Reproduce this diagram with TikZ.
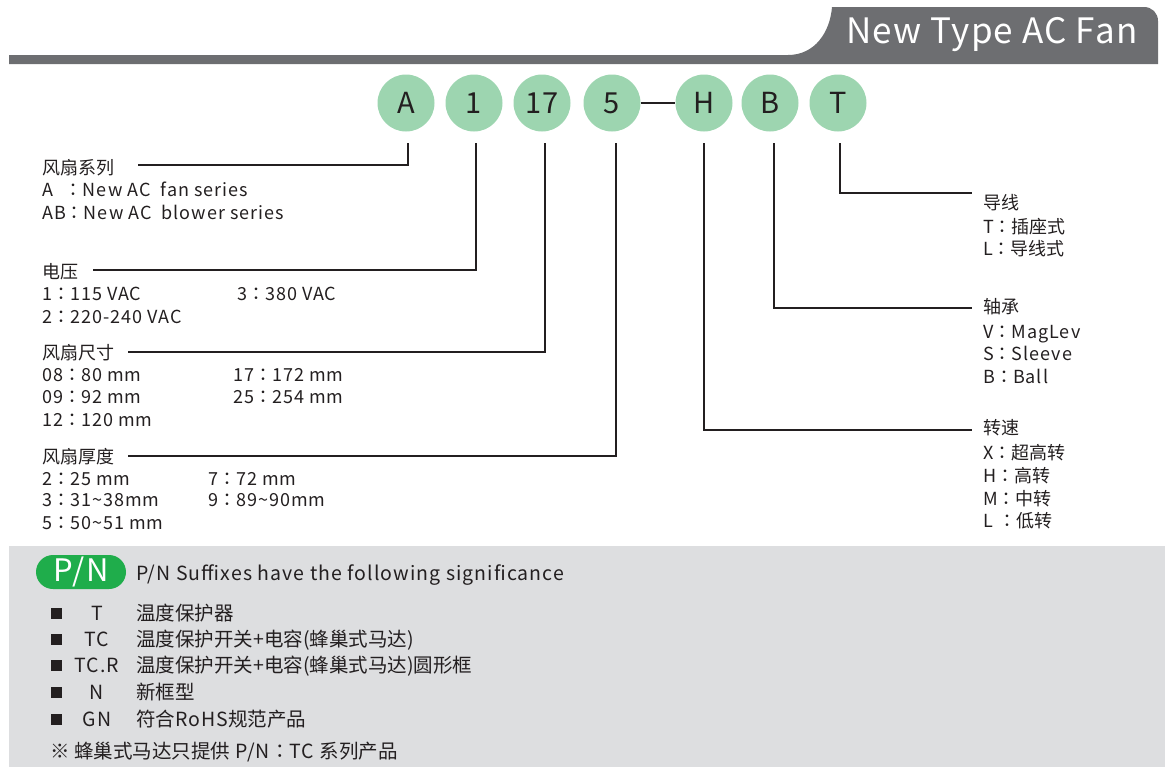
\documentclass[tikz,border=0pt]{standalone}
\usepackage{fontspec}
\setmainfont[LetterSpace=5.5]{Noto Sans CJK SC}
\newfontfamily\cjk{Noto Sans CJK SC}
\newfontfamily\cjkcolon{Noto Sans CJK TC}
\newfontfamily\titlefont[LetterSpace=3.5]{Noto Sans CJK SC}
\newcommand\cn[1]{{\cjk #1}}
\newcommand\fcolon{{\cjkcolon ：}}
\definecolor{ink}{HTML}{231F20}
\definecolor{tabgray}{HTML}{6D6E71}
\definecolor{panelgray}{HTML}{DDDEE0}
\definecolor{codegreen}{HTML}{9DD5B0}
\definecolor{pngreen}{HTML}{1FAD4B}
\begin{document}
\begin{tikzpicture}[x=1pt,y=-1pt,
  code/.style={circle, fill=codegreen, minimum size=57pt, inner sep=0pt, text=ink, font=\cjk\fontsize{29}{29}\selectfont},
  txt/.style={anchor=base west, inner sep=0pt, text=ink, font=\fontsize{18}{22}\selectfont},
  pntxt/.style={anchor=base west, inner sep=0pt, text=ink, font=\fontsize{19.5}{22}\selectfont},
  lead/.style={draw=ink, line width=1.1pt},
  bullet/.style={fill=ink, minimum size=11pt, inner sep=0pt}]
\useasboundingbox (0,0) rectangle (1172,769);
% header
\fill[tabgray] (9,55) -- (788,55) .. controls (815,55) and (830,32) .. (832,7)
  -- (1144,7) .. controls (1152,7) and (1158,13) .. (1158,21) -- (1158,64) -- (9,64) -- cycle;
\node[anchor=base west, inner sep=0pt, text=white, font=\titlefont\fontsize{35}{35}\selectfont] (title) at (846,43) {New Type AC Fan};
% code circles
\node[code] (cA) at (406,103) {A};
\node[code] (c1) at (474,103) {1};
\node[code] (c17) at (542,103) {17};
\node[code] (c5) at (612,103) {5};
\node[code] (cH) at (704,103) {H};
\node[code] (cB) at (770,103) {B};
\node[code] (cT) at (838,103) {T};
\draw[ink, line width=2.5pt] (c5) -- (cH);
% series
\node[txt] (hA) at (42,174) {\cn{风扇系列}};
\node[txt] (vA1) at (42,196) {A\phantom{B}\fcolon New AC\ \ fan series};
\node[txt] (vA2) at (42,219) {AB\fcolon New AC\ \ blower series};
% voltage
\node[txt] (h1) at (42,278) {\cn{电压}};
\node[txt] (v11) at (42,300) {1\fcolon 115 VAC};
\node[txt] (v12) at (42,323) {2\fcolon 220-240 VAC};
\node[txt] (v13) at (237,300) {3\fcolon 380 VAC};
% size
\node[txt] (h17) at (42,359) {\cn{风扇尺寸}};
\node[txt] (v171) at (42,381) {08\fcolon 80 mm};
\node[txt] (v172) at (42,403) {09\fcolon 92 mm};
\node[txt] (v173) at (42,426) {12\fcolon 120 mm};
\node[txt] (v174) at (233,381) {17\fcolon 172 mm};
\node[txt] (v175) at (233,403) {25\fcolon 254 mm};
% thickness
\node[txt] (h5) at (42,463) {\cn{风扇厚度}};
\node[txt] (v51) at (42,485) {2\fcolon 25 mm};
\node[txt] (v52) at (42,506) {3\fcolon 31\textasciitilde38mm};
\node[txt] (v53) at (42,529) {5\fcolon 50\textasciitilde51 mm};
\node[txt] (v54) at (208,485) {7\fcolon 72 mm};
\node[txt] (v55) at (208,506) {9\fcolon 89\textasciitilde90mm};
% lead wire
\node[txt] (hT) at (983,209) {\cn{导线}};
\node[txt] (vT1) at (983,233) {T\fcolon\cn{插座式}};
\node[txt] (vT2) at (983,255) {L\fcolon\cn{导线式}};
% bearing
\node[txt] (hB) at (983,313) {\cn{轴承}};
\node[txt] (vB1) at (983,338) {V\fcolon MagLev};
\node[txt] (vB2) at (983,360) {S\fcolon Sleeve};
\node[txt] (vB3) at (983,383) {B\fcolon Ball};
% speed
\node[txt] (hH) at (983,434) {\cn{转速}};
\node[txt] (vH1) at (983,459) {X\fcolon\cn{超高转}};
\node[txt] (vH2) at (983,482) {H\fcolon\cn{高转}};
\node[txt] (vH3) at (983,505) {M\fcolon\cn{中转}};
\node[txt] (vH4) at (983,527) {L\ \fcolon\cn{低转}};
% leader lines
\coordinate (tA) at (408,143);  \coordinate (eA) at (138,165);
\coordinate (t1) at (476,143);  \coordinate (e1) at (93,270);
\coordinate (t17) at (545,143); \coordinate (e17) at (128,352);
\coordinate (t5) at (616,143);  \coordinate (e5) at (128,456);
\coordinate (tH) at (704,143);  \coordinate (eH) at (972,430);
\coordinate (tB) at (774,143);  \coordinate (eB) at (972,308);
\coordinate (tT) at (840,143);  \coordinate (eT) at (972,193);
\draw[lead] (tA) |- (eA);
\draw[lead] (t1) |- (e1);
\draw[lead] (t17) |- (e17);
\draw[lead] (t5) |- (e5);
\draw[lead] (tH) |- (eH);
\draw[lead] (tB) |- (eB);
\draw[lead] (tT) |- (eT);
% suffix panel
\fill[panelgray] (9,546) rectangle (1165,767);
\node[fill=pngreen, rounded corners=17pt, minimum width=90pt, minimum height=34pt, inner sep=0pt, text=white, font=\fontsize{31}{31}\selectfont] (pn) at (81,572) {P/N};
\node[pntxt] (pnhead) at (136,580) {P/N Suffixes have the following significance};
\foreach \y/\code/\desc [count=\i] in {613/T/\cn{温度保护器}, 639/TC/{\cn{温度保护开关}+\cn{电容}(\cn{蜂巢式马达})}, 665/TC.R/{\cn{温度保护开关}+\cn{电容}(\cn{蜂巢式马达})\cn{圆形框}}, 692/N/\cn{新框型}, 719/GN/{\cn{符合}RoHS\cn{规范产品}}}{
  \node[bullet] (sq\i) at (56,\y) {};
  \node[anchor=base, inner sep=0pt, text=ink, font=\fontsize{19.5}{22}\selectfont] (sc\i) at (97,\y+7) {\code};
  \node[pntxt] (sd\i) at (136,\y+7) {\desc};
}
\node[pntxt] (note) at (50,758) {\cn{※ 蜂巢式马达只提供} P/N\fcolon TC \cn{系列产品}};
\end{tikzpicture}
\end{document}
